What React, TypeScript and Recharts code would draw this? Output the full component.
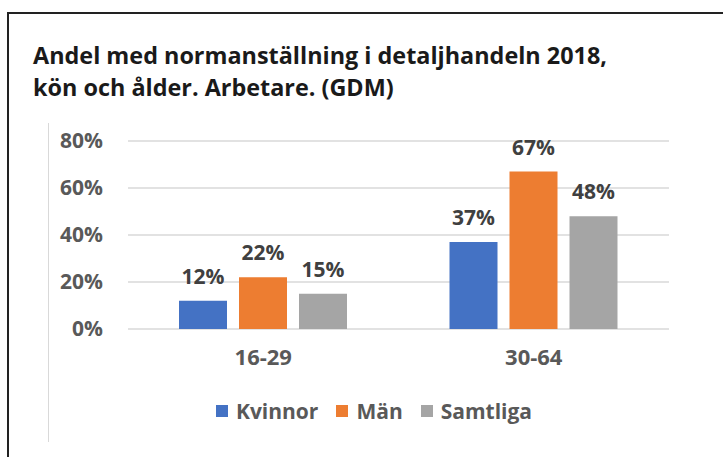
import React from 'react';
import {
  BarChart,
  Bar,
  XAxis,
  YAxis,
  CartesianGrid,
  LabelList,
} from 'recharts';

// Age groups on the x axis
const ageGroups = ['16-29', '30-64'];
// Share with standard employment, percent
const kvinnor = [12, 37];
const man = [22, 67];
const samtliga = [15, 48];
const yTicks = [0, 20, 40, 60, 80];

const seriesNames = ['Kvinnor', 'Män', 'Samtliga'];
const seriesColors = ['#4472C4', '#ED7D31', '#A5A5A5'];

const data = ageGroups.map((group, i) => ({
  group,
  Kvinnor: kvinnor[i],
  Män: man[i],
  Samtliga: samtliga[i],
}));

const FONT = '"Open Sans", sans-serif';

// legend drawn as plain html under the chart
const ChartLegend = () => (
  <div
    style={{
      position: 'absolute',
      left: 0,
      top: 396,
      width: 748,
      display: 'flex',
      justifyContent: 'center',
      alignItems: 'center',
      fontFamily: FONT,
      fontWeight: 700,
      fontSize: 21,
      lineHeight: '30px',
      color: '#595959',
    }}
  >
    {seriesNames.map((name, i) => (
      <div key={name} style={{ display: 'flex', alignItems: 'center', marginRight: i < 2 ? 18 : 0 }}>
        <span style={{ width: 12, height: 12, background: seriesColors[i], marginRight: 8, display: 'inline-block' }} />
        <span>{name}</span>
      </div>
    ))}
  </div>
);

const App = () => {
  return (
    <div style={{ position: 'absolute', left: 0, top: 0, width: 723, height: 457, background: '#fff', overflow: 'hidden' }}>
      {/* frame lines */}
      <div style={{ position: 'absolute', left: 7, top: 12, width: 716, height: 1.5, background: '#222' }} />
      <div style={{ position: 'absolute', left: 7, top: 12, width: 1.5, height: 445, background: '#222' }} />
      <div style={{ position: 'absolute', left: 48, top: 123, width: 1, height: 319, background: '#d9d9d9' }} />

      <div
        style={{
          position: 'absolute',
          left: 33,
          top: 39,
          fontFamily: FONT,
          fontWeight: 700,
          fontSize: 23.4,
          lineHeight: '32px',
          color: '#1a1a1a',
          whiteSpace: 'nowrap',
        }}
      >
        Andel med normanställning i detaljhandeln 2018,
        <br />
        kön och ålder. Arbetare. (GDM)
      </div>

      <div style={{ position: 'absolute', left: 0, top: 0 }}>
        <BarChart
          width={723}
          height={457}
          data={data}
          margin={{ top: 141, right: 54, bottom: 98, left: 0 }}
          barGap={12}
          barSize={48}
        >
          <CartesianGrid horizontal vertical={false} stroke="#d9d9d9" strokeWidth={1.5} />
          <XAxis
            dataKey="group"
            axisLine={false}
            tickLine={false}
            tickMargin={14}
            tick={{ fill: '#595959', fontFamily: FONT, fontWeight: 700, fontSize: 22 }}
          />
          <YAxis
            width={128}
            domain={[0, 80]}
            ticks={yTicks}
            interval={0}
            axisLine={false}
            tickLine={false}
            tickMargin={19}
            tickFormatter={(v: number) => `${v}%`}
            tick={{ fill: '#595959', fontFamily: FONT, fontWeight: 700, fontSize: 21 }}
          />
          {seriesNames.map((name, i) => (
            <Bar key={name} dataKey={name} fill={seriesColors[i]} isAnimationActive={false}>
              <LabelList
                dataKey={name}
                position="top"
                offset={17}
                formatter={(v: number) => `${v}%`}
                style={{ fill: '#404040', fontFamily: FONT, fontWeight: 700, fontSize: 21 }}
              />
            </Bar>
          ))}
        </BarChart>
      </div>
      <ChartLegend />
    </div>
  );
};

export default App;
